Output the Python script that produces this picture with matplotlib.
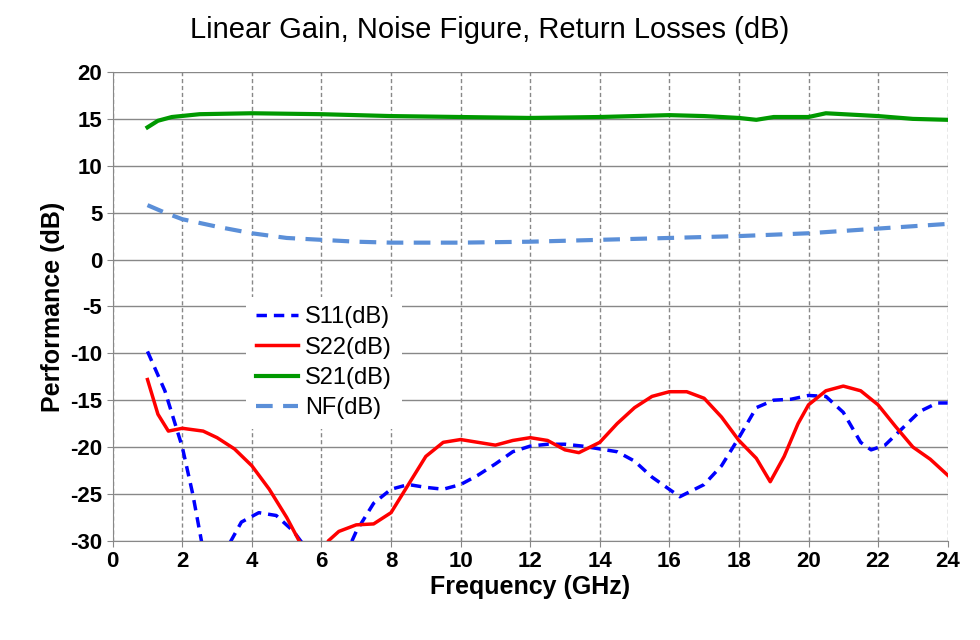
import matplotlib
matplotlib.use("Agg")
import matplotlib.pyplot as plt

plt.rcParams["font.family"] = ["Liberation Sans", "DejaVu Sans"]
plt.rcParams["axes.unicode_minus"] = False

s11_f = [1, 1.5, 2, 2.3, 2.6, 3.0, 3.4, 3.7, 4.2, 4.7, 5.2, 5.6, 6, 6.7, 7, 7.5, 8, 8.5, 9, 9.5,
         10, 10.5, 11, 11.5, 12, 12.5, 13, 13.5, 14, 14.5, 15, 15.5, 16.3, 17, 17.5, 18, 18.5,
         19, 19.5, 20, 20.5, 21, 21.5, 21.8, 22.2, 22.7, 23.2, 23.7, 24]
s11_db = [-9.8, -14, -20, -25, -31, -33, -30, -28, -27, -27.3, -29, -31, -33, -31.5, -29, -26,
          -24.5, -24, -24.3, -24.5, -24, -23, -21.8, -20.5, -19.9, -19.7, -19.7, -19.9, -20.2,
          -20.5, -21.5, -23.2, -25.3, -24, -22, -19, -15.8, -15, -14.9, -14.5, -14.6, -16.3,
          -19.5, -20.3, -19.8, -18, -16.2, -15.3, -15.3]

s22_f = [1.0, 1.3, 1.6, 2.0, 2.6, 3, 3.5, 4, 4.5, 5, 5.5, 6, 6.2, 6.5, 7, 7.5, 8, 8.5, 9, 9.5,
         10, 10.5, 11, 11.5, 12, 12.5, 13, 13.4, 14, 14.5, 15, 15.5, 16, 16.5, 17, 17.5, 18,
         18.5, 18.9, 19.3, 19.7, 20, 20.5, 21, 21.5, 22, 22.5, 23, 23.5, 24]
s22_db = [-12.8, -16.5, -18.3, -18, -18.3, -19, -20.2, -22, -24.5, -27.5, -31, -32, -30, -29,
          -28.3, -28.2, -27, -24, -21, -19.5, -19.2, -19.5, -19.8, -19.3, -19, -19.3, -20.3,
          -20.6, -19.5, -17.5, -15.8, -14.6, -14.1, -14.1, -14.8, -16.8, -19.3, -21.2, -23.7,
          -21, -17.5, -15.5, -14, -13.5, -14, -15.5, -17.8, -20, -21.3, -23]

s21_f = [1, 1.3, 1.7, 2.5, 4, 6, 8, 10, 12, 14, 16, 17, 18, 18.5, 19, 20, 20.5, 21, 22, 23, 24]
s21_db = [14.1, 14.8, 15.2, 15.5, 15.6, 15.5, 15.3, 15.2, 15.1, 15.2, 15.4, 15.3, 15.1, 14.9,
          15.2, 15.2, 15.6, 15.5, 15.3, 15.0, 14.9]

nf_f = [1, 1.5, 2, 3, 4, 5, 6, 7, 8, 10, 12, 14, 16, 18, 20, 22, 24]
nf_db = [5.8, 5.0, 4.3, 3.5, 2.8, 2.3, 2.1, 1.9, 1.8, 1.8, 1.9, 2.1, 2.3, 2.5, 2.8, 3.3, 3.8]

fig = plt.figure(figsize=(9.8, 6.4), dpi=100)
ax = fig.add_axes([0.115, 0.155, 0.852, 0.7325])

ax.plot(s11_f, s11_db, color="#0000ff", lw=2.5, ls=(0, (3, 2)), label="S11(dB)")
ax.plot(s22_f, s22_db, color="#ff0000", lw=2.5, label="S22(dB)")
ax.plot(s21_f, s21_db, color="#009900", lw=3, label="S21(dB)")
ax.plot(nf_f, nf_db, color="#5b8fd8", lw=3, ls=(0, (4, 2.5)), label="NF(dB)")

ax.set_xlim(0, 24)
ax.set_ylim(-30, 20)
ax.set_xticks(range(0, 25, 2))
ax.set_yticks(range(-30, 21, 5))
ax.grid(axis="y", color="#888888", lw=1)
ax.grid(axis="x", color="#888888", lw=1, ls=(0, (3, 2)))
ax.set_axisbelow(True)
for name in ["top", "right"]:
    ax.spines[name].set_visible(False)
for name in ["left", "bottom"]:
    ax.spines[name].set_color("#888888")
ax.tick_params(length=4, color="#888888", labelsize=16)
for lab in ax.get_xticklabels() + ax.get_yticklabels():
    lab.set_fontweight("bold")

ax.set_xlabel("Frequency (GHz)", fontsize=18, fontweight="bold", labelpad=2)
ax.set_ylabel("Performance (dB)", fontsize=18, fontweight="bold")
fig.suptitle("Linear Gain, Noise Figure, Return Losses (dB)", fontsize=21, x=0.5, y=0.975)

leg = ax.legend(loc="upper left", bbox_to_anchor=(0.16, 0.52), frameon=True,
                fontsize=17, handlelength=1.8, handletextpad=0.3, labelspacing=0.35,
                borderaxespad=0)
leg.get_frame().set_edgecolor("none")
leg.get_frame().set_facecolor("white")
leg.get_frame().set_alpha(1)

fig.savefig("out.png", dpi=100)
